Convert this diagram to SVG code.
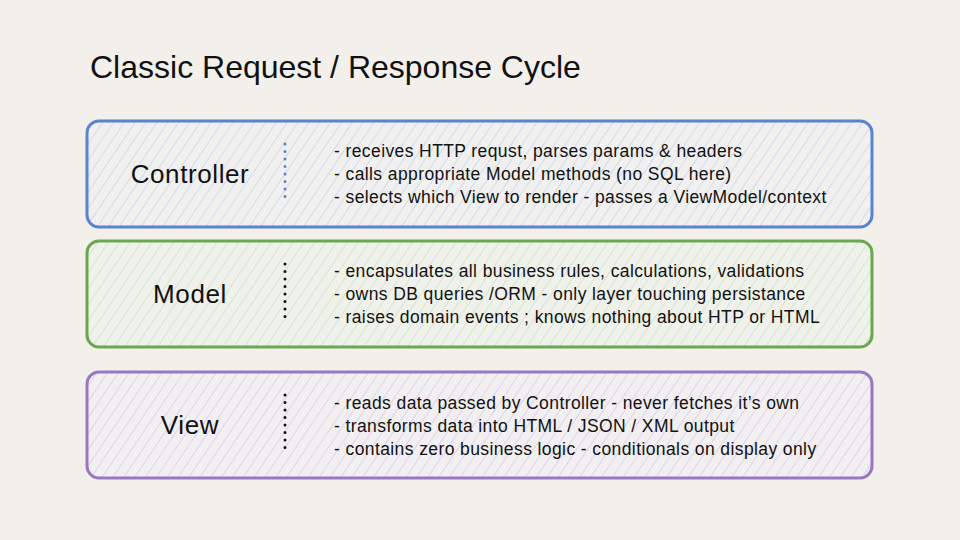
<svg xmlns="http://www.w3.org/2000/svg" width="960" height="540" viewBox="0 0 960 540">
<defs>
<pattern id="hb" width="9" height="9" patternUnits="userSpaceOnUse" patternTransform="rotate(34)"><rect width="9" height="9" fill="#f1f0ee"/><line x1="0" y1="0" x2="0" y2="9" stroke="#bdd3f2" stroke-width="1.4"/></pattern>
<pattern id="hg" width="9" height="9" patternUnits="userSpaceOnUse" patternTransform="rotate(34)"><rect width="9" height="9" fill="#f1f1eb"/><line x1="0" y1="0" x2="0" y2="9" stroke="#c2e2c2" stroke-width="1.4"/></pattern>
<pattern id="hp" width="9" height="9" patternUnits="userSpaceOnUse" patternTransform="rotate(34)"><rect width="9" height="9" fill="#f2eff0"/><line x1="0" y1="0" x2="0" y2="9" stroke="#d6c5ee" stroke-width="1.4"/></pattern>
</defs>
<style>
.t{font-family:"Liberation Sans",Arial,sans-serif;fill:#111}
.title{font-size:32px}
.lbl{font-size:26px;letter-spacing:0.6px}
.body{font-size:17.5px;letter-spacing:0.4px}
.sep{stroke-width:3;stroke-linecap:round;stroke-dasharray:0 7.5;fill:none}
.box{stroke-width:3}
</style>
<rect width="960" height="540" fill="#f3f0eb"/>
<text class="t title" x="90" y="78">Classic Request / Response Cycle</text>
<g id="controller">
<rect class="box" x="87" y="121" width="785" height="106" rx="12" fill="url(#hb)" stroke="#5a84cf"/>
<text class="t lbl" x="190" y="183" text-anchor="middle">Controller</text>
<line class="sep" x1="285" y1="144" x2="285" y2="204" stroke="#5a84cf"/>
<text class="t body" x="334" y="157">- receives HTTP requst, parses params &amp; headers</text>
<text class="t body" x="334" y="180">- calls appropriate Model methods (no SQL here)</text>
<text class="t body" x="334" y="203">- selects which View to render - passes a ViewModel/context</text>
</g>
<g id="model">
<rect class="box" x="87" y="241" width="785" height="106" rx="12" fill="url(#hg)" stroke="#6aa84f"/>
<text class="t lbl" x="190" y="303" text-anchor="middle">Model</text>
<line class="sep" x1="285" y1="264" x2="285" y2="324" stroke="#111"/>
<text class="t body" x="334" y="277">- encapsulates all business rules, calculations, validations</text>
<text class="t body" x="334" y="300">- owns DB queries /ORM - only layer touching persistance</text>
<text class="t body" x="334" y="323">- raises domain events ; knows nothing about HTP or HTML</text>
</g>
<g id="view">
<rect class="box" x="87" y="372" width="785" height="106" rx="12" fill="url(#hp)" stroke="#9878c2"/>
<text class="t lbl" x="190" y="434" text-anchor="middle">View</text>
<line class="sep" x1="285" y1="395" x2="285" y2="455" stroke="#111"/>
<text class="t body" x="334" y="409">- reads data passed by Controller - never fetches it’s own</text>
<text class="t body" x="334" y="432">- transforms data into HTML / JSON / XML output</text>
<text class="t body" x="334" y="455">- contains zero business logic - conditionals on display only</text>
</g>
<g id="connectors"></g>
</svg>
